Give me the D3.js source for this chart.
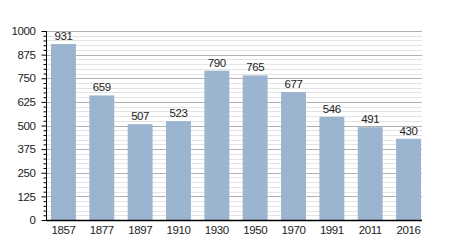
<!DOCTYPE html>
<html>
<head>
<meta charset="utf-8">
<script src="https://cdn.jsdelivr.net/npm/d3@7"></script>
<style>
  body { margin: 0; background: #fff; }
  svg text { font-family: "Liberation Sans", Arial, sans-serif; letter-spacing: -0.4px; }
</style>
</head>
<body>
<div id="chart"></div>
<script>
// data
var years = ["1857", "1877", "1897", "1910", "1930", "1950", "1970", "1991", "2011", "2016"];
var population = [931, 659, 507, 523, 790, 765, 677, 546, 491, 430];
var yTicks = [0, 125, 250, 375, 500, 625, 750, 875, 1000];

var svgWidth = 450, svgHeight = 250;
var plotLeft = 46, plotRight = 422, plotTop = 31, plotBottom = 220;
var fontFam = "'Liberation Sans', Arial, sans-serif";

var svg = d3.select("#chart").append("svg")
    .attr("width", svgWidth)
    .attr("height", svgHeight);

var x = d3.scaleBand().domain(years).range([plotLeft, 426])
    .paddingInner(0.35).paddingOuter(0.13);
var y = d3.scaleLinear().domain([0, 1000]).range([plotBottom, plotTop]);

// minor grid every 25
var minor = d3.range(25, 1001, 25).filter(function(v){ return v % 125 !== 0; });
svg.append("g").selectAll("line").data(minor).enter().append("line")
    .attr("x1", plotLeft).attr("x2", plotRight)
    .attr("y1", function(d){ return Math.round(y(d)) + 0.5; })
    .attr("y2", function(d){ return Math.round(y(d)) + 0.5; })
    .attr("stroke", "#e4e4e4").attr("stroke-width", 1);
// major grid
svg.append("g").selectAll("line").data(yTicks.slice(1)).enter().append("line")
    .attr("x1", plotLeft).attr("x2", plotRight)
    .attr("y1", function(d){ return Math.round(y(d)) + 0.5; })
    .attr("y2", function(d){ return Math.round(y(d)) + 0.5; })
    .attr("stroke", "#b0b0b0").attr("stroke-width", 1);

// bars
svg.append("g").selectAll("rect").data(population).enter().append("rect")
    .attr("fill", "#9bb4cf")
    .attr("x", function(d, i){ return x(years[i]); })
    .attr("width", x.bandwidth())
    .attr("y", function(d){ return y(d); })
    .attr("height", function(d){ return plotBottom - y(d); });

// value labels
svg.append("g").selectAll("text").data(population).enter().append("text")
    .attr("x", function(d, i){ return x(years[i]) + x.bandwidth() / 2; })
    .attr("y", function(d){ return y(d) - 4; })
    .attr("text-anchor", "middle")
    .attr("font-size", 11.5)
    .attr("fill", "#222")
    .text(function(d){ return d; });

// y axis: minor ticks then major ticks
var yAxisG = svg.append("g").attr("transform", "translate(" + (plotLeft + 0.5) + ",0)");
yAxisG.append("g")
    .call(d3.axisLeft(y).tickValues(minor).tickSize(3).tickFormat(""))
    .call(function(g){ g.select(".domain").remove(); });
yAxisG.append("g")
    .call(d3.axisLeft(y).tickValues(yTicks).tickSize(5).tickPadding(6).tickFormat(d3.format("d")))
    .call(function(g){
      g.select(".domain").attr("d", "M0," + plotTop + "V" + plotBottom);
      g.selectAll("text").attr("font-size", 11.5).attr("fill", "#222")
        .style("font-family", fontFam);
    });
yAxisG.selectAll("line").attr("stroke", "#000");

// x axis
svg.append("g")
    .attr("transform", "translate(0," + (plotBottom + 0.5) + ")")
    .call(d3.axisBottom(x).tickSize(0).tickPadding(5))
    .call(function(g){
      g.select(".domain").attr("d", "M" + plotLeft + ",0H" + plotRight).attr("stroke-width", 1.5);
      g.selectAll("text").attr("font-size", 11.5).attr("fill", "#222")
        .style("font-family", fontFam);
    });
</script>
</body>
</html>
